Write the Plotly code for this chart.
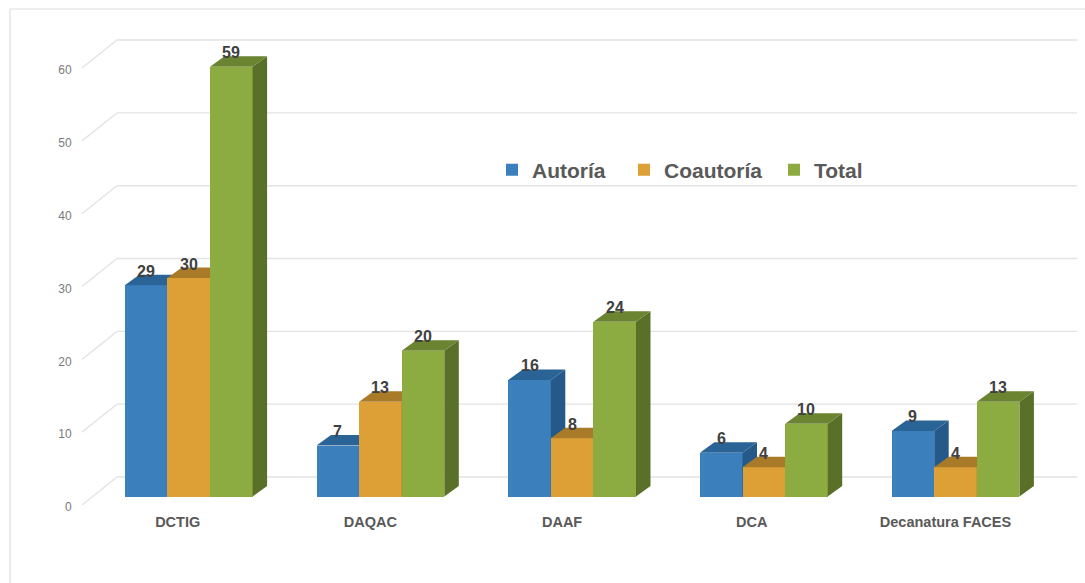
import plotly.graph_objects as go

# Publication counts per department
categories = ["DCTIG", "DAQAC", "DAAF", "DCA", "Decanatura FACES"]
autoria = [29, 7, 16, 6, 9]
coautoria = [30, 13, 8, 4, 4]
total = [59, 20, 24, 10, 13]
y_ticks = [0, 10, 20, 30, 40, 50, 60]

W, H = 1085, 583
PX_PER_GROUP = 191.7     # horizontal distance between groups
PX_PER_UNIT = 7.283      # vertical pixels per counted publication
FIRST_GROUP_PX = 188.7
AXIS_LEFT_PX = 80
AXIS_BOTTOM_PX = 505
BAR_LIFT = 8.5 / PX_PER_UNIT     # bars stand a little behind the front edge of the floor
BAR_W = 42.6 / PX_PER_GROUP
DX, DY = 14.5 / PX_PER_GROUP, 10.5 / PX_PER_UNIT    # bar extrusion
GRID_DX, GRID_DY = 35 / PX_PER_GROUP, 28 / PX_PER_UNIT   # floor depth


def px_x(px):
    return (px - FIRST_GROUP_PX) / PX_PER_GROUP


x_range = [px_x(AXIS_LEFT_PX), px_x(W)]
y_top = AXIS_BOTTOM_PX / PX_PER_UNIT
bar_range = [-BAR_LIFT, y_top - BAR_LIFT]

series = [
    ("Autoría", autoria, "#3b80bd", "#2a6496", "#25598a", "y2", "legend"),
    ("Coautoría", coautoria, "#dca037", "#a97b28", "#966c22", "y3", "legend2"),
    ("Total", total, "#8cac42", "#6b8431", "#5a7029", "y4", "legend3"),
]

fig = go.Figure()

# Receding gridlines: front edge of the floor, back to the wall, then across it
grid_x, grid_y = [], []
for t in y_ticks:
    grid_x += [px_x(82), px_x(82) + GRID_DX, px_x(1077), None]
    grid_y += [t, t + GRID_DY, t + GRID_DY, None]
fig.add_trace(go.Scatter(
    x=grid_x, y=grid_y, mode="lines", yaxis="y", showlegend=False, hoverinfo="skip",
    line=dict(color="#e4e4e4", width=1.4), cliponaxis=False,
))

# One overlaid subplot per series so later series paint over earlier ones
for s, (name, values, front, top, side, axis, legend_id) in enumerate(series):
    offset = -1.5 * BAR_W + s * BAR_W
    xs = list(range(len(categories)))
    fig.add_trace(go.Bar(
        x=xs, y=values, name=name, yaxis=axis, width=BAR_W, offset=offset,
        legend=legend_id, marker=dict(color=front, line=dict(width=0)),
    ))
    top_x, top_y, side_x, side_y = [], [], [], []
    for i, v in zip(xs, values):
        left = i + offset
        right = left + BAR_W
        top_x += [left, right, right + DX, left + DX, left, None]
        top_y += [v, v, v + DY, v + DY, v, None]
        side_x += [right, right + DX, right + DX, right, right, None]
        side_y += [0, DY, v + DY, v, 0, None]
    fig.add_trace(go.Scatter(
        x=side_x, y=side_y, yaxis=axis, mode="lines", fill="toself", fillcolor=side,
        line=dict(width=0, color=side), showlegend=False, hoverinfo="skip",
    ))
    fig.add_trace(go.Scatter(
        x=top_x, y=top_y, yaxis=axis, mode="lines", fill="toself", fillcolor=top,
        line=dict(width=0, color=top), showlegend=False, hoverinfo="skip",
    ))
    # Value labels above each bar
    for i, v in zip(xs, values):
        fig.add_annotation(
            x=i + offset + BAR_W / 2, y=v, yref=axis, xref="x", text=str(v),
            showarrow=False, yshift=14, yanchor="middle", xanchor="center",
            font=dict(family="Liberation Sans", size=16, color="#404040", weight="bold"),
        )

hidden = dict(visible=False, overlaying="y", range=bar_range, domain=[1 - AXIS_BOTTOM_PX / H, 1])
label_offsets = [-11, -10, -10, -12, -10]


def legend_at(px):
    return dict(
        orientation="h", x=px / W, y=1 - 170 / H, xanchor="left", yanchor="middle",
        itemclick=False, bgcolor="rgba(0,0,0,0)", itemwidth=30, indentation=-9,
        font=dict(family="Liberation Sans", size=21, color="#595959", weight="bold"),
    )


fig.update_layout(
    template="none",
    width=W, height=H, margin=dict(l=0, r=0, t=0, b=0, pad=0),
    paper_bgcolor="white", plot_bgcolor="rgba(0,0,0,0)",
    bargap=0,
    xaxis=dict(
        domain=[AXIS_LEFT_PX / W, 1], range=x_range, showgrid=False, zeroline=False,
        showline=False, automargin=False, ticks="outside", ticklen=4, tickcolor="rgba(0,0,0,0)",
        tickmode="array",
        tickvals=[i + o / PX_PER_GROUP for i, o in enumerate(label_offsets)],
        ticktext=categories,
        tickfont=dict(family="Liberation Sans", size=14.5, color="#595959", weight="bold"),
    ),
    yaxis=dict(
        domain=[1 - AXIS_BOTTOM_PX / H, 1], range=[0, y_top], showgrid=False, zeroline=False,
        showline=False, automargin=False, ticks="outside", ticklen=5, tickcolor="rgba(0,0,0,0)",
        tickmode="array", tickvals=y_ticks, ticklabelshift=2,
        tickfont=dict(family="Liberation Sans", size=12, color="#7a7a7a"),
    ),
    yaxis2=hidden, yaxis3=hidden, yaxis4=hidden,
    legend=legend_at(501), legend2=legend_at(633), legend3=legend_at(783),
    shapes=[
        dict(type="line", xref="paper", yref="paper", x0=10 / W, x1=10 / W, y0=0, y1=1 - 9 / H,
             line=dict(color="#dedede", width=1.2), layer="below"),
        dict(type="line", xref="paper", yref="paper", x0=10 / W, x1=1, y0=1 - 9 / H, y1=1 - 9 / H,
             line=dict(color="#dedede", width=1.2), layer="below"),
    ],
)

fig.write_html("out.html", config=dict(displayModeBar=False))
